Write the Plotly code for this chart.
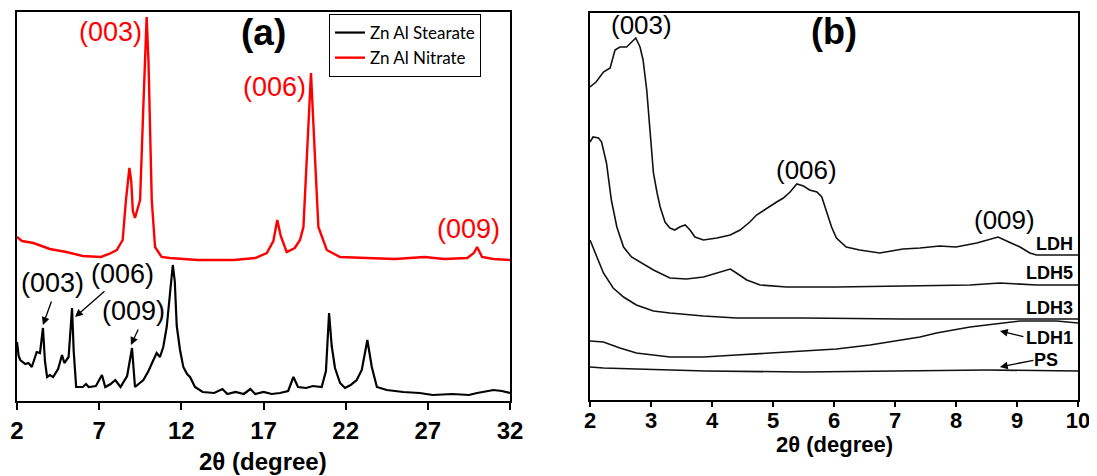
import plotly.graph_objects as go

# ---------------- Panel (a) data ----------------
a_stearate_x = [2.0, 2.1, 2.2, 2.5, 2.7, 2.9, 3.2, 3.4, 3.58, 3.7, 3.83, 4.0, 4.2, 4.5, 4.74, 4.88, 5.14, 5.35,
                5.45, 5.6, 6.0, 6.2, 6.36, 6.8, 7.17, 7.37, 7.7, 7.98, 8.3, 8.7, 9.0, 9.18, 9.69, 10.0, 10.3,
                10.5, 10.7, 10.9, 11.11, 11.3, 11.48, 11.6, 11.72, 11.92, 12.12, 12.35, 12.53, 12.83, 13.3,
                14.0, 14.5, 14.8, 15.3, 15.8, 16.2, 16.5, 17.0, 17.5, 18.0, 18.5, 18.82, 19.1, 19.6, 20.0,
                20.54, 20.8, 20.99, 21.15, 21.35, 21.66, 21.96, 22.3, 22.67, 22.98, 23.15, 23.32, 23.59, 23.9,
                24.5, 25.5, 26.5, 27.3, 28.5, 29.5, 30.0, 31.0, 31.5, 32.0]
a_stearate_y = [59, 45, 41, 37, 38, 34, 49, 48, 73, 40, 24, 26, 24, 32, 46, 38, 44, 93,
                50, 14, 14, 17, 14, 15, 26, 14, 17, 21, 14, 25, 53, 14, 21, 30, 41,
                48, 44, 54, 74, 110, 136, 120, 75, 51, 34, 27, 24, 14, 9,
                8, 12, 7, 9, 7, 12, 7, 9, 7, 8, 10, 24, 14, 13, 15,
                14, 30, 88, 55, 33, 18, 13, 16, 21, 31, 45, 61, 34, 14,
                11, 9, 8, 6, 7, 6, 8, 11, 10, 8]

a_nitrate_x = [2.0, 2.3, 3.0, 4.0, 5.0, 6.0, 7.1, 7.6, 8.07, 8.43, 8.63, 8.84, 8.95, 9.05, 9.18, 9.3, 9.49,
               9.7, 9.89, 10.0, 10.2, 10.4, 10.8, 11.3, 12.1, 13.0, 15.2, 16.5, 17.2, 17.6, 17.84, 18.05,
               18.41, 18.9, 19.22, 19.43, 19.63, 19.89, 20.14, 20.34, 20.85, 21.66, 23.3, 25.0, 26.8, 28.0,
               29.4, 29.8, 30.0, 30.3, 31.0, 32.0]
a_nitrate_y = [164, 160, 158, 152, 149, 145, 144, 147, 151, 161, 201, 233, 220, 190, 183, 190, 201,
               300, 384, 340, 201, 154, 144, 143, 142, 141, 141, 143, 148, 160, 181, 165,
               149, 153, 161, 174, 241, 328, 241, 174, 151, 144, 143, 142, 144, 142,
               143, 148, 154, 144, 142, 141]

a_ticks = [2, 7, 12, 17, 22, 27, 32]

# ---------------- Panel (b) data ----------------
b_ldh_x = [2.0, 2.1, 2.22, 2.33, 2.41, 2.49, 2.6, 2.68, 2.75, 2.82, 2.87, 2.93, 2.98, 3.04, 3.1, 3.15, 3.23,
           3.31, 3.39, 3.47, 3.56, 3.64, 3.72, 3.86, 4.08, 4.3, 4.46, 4.62, 4.73, 4.9, 5.06, 5.17, 5.28,
           5.39, 5.5, 5.6, 5.72, 5.8, 5.88, 5.96, 6.04, 6.2, 6.42, 6.75, 7.13, 7.41, 7.73, 8.0, 8.34,
           8.55, 8.69, 8.83, 9.05, 9.21, 9.32, 10.0]
b_ldh_y = [313, 318, 328, 332, 350, 353, 353, 358, 362, 353, 340, 310, 270, 227, 207, 193, 178,
           172, 170, 173, 175, 170, 163, 160, 162, 165, 170, 178, 185, 192, 198, 202, 208,
           216, 214, 210, 208, 203, 187, 173, 162, 153, 150, 147, 151, 152, 154, 153, 157,
           161, 163, 159, 153, 147, 145, 145]

b_ldh5_x = [2.0, 2.05, 2.14, 2.19, 2.27, 2.35, 2.44, 2.55, 2.68, 2.85, 3.04, 3.31, 3.58, 3.86, 4.08, 4.3,
            4.4, 4.57, 4.79, 5.22, 6.04, 7.13, 8.23, 8.72, 9.32, 10.0]
b_ldh5_y = [258, 263, 262, 258, 237, 200, 173, 153, 143, 137, 130, 122, 121, 123, 127, 131,
            127, 120, 115, 113, 113, 114, 115, 117, 115, 115]

b_ldh3_x = [2.0, 2.11, 2.22, 2.38, 2.55, 2.76, 3.04, 3.31, 3.86, 4.4, 5.5, 7.13, 10.0]
b_ldh3_y = [160, 143, 127, 112, 103, 95, 89, 87, 84, 82, 82, 81, 81]

b_ldh1_x = [2.0, 2.22, 2.49, 2.76, 3.31, 3.86, 4.4, 4.95, 5.5, 6.04, 6.59, 7.13, 7.41, 7.68, 7.95, 8.23,
            8.5, 8.77, 9.05, 9.32, 9.65, 10.0]
b_ldh1_y = [59, 58, 52, 47, 43, 43, 45, 47, 49, 51, 55, 60, 63, 67, 70, 73,
            75, 77, 79, 79, 79, 77]

b_ps_x = [2.0, 2.22, 2.76, 3.9, 5.5, 7.13, 8.5, 10.0]
b_ps_y = [33, 32, 31, 29, 28, 29, 30, 29]

b_ticks = [2, 3, 4, 5, 6, 7, 8, 9, 10]

FONT = "Liberation Sans, Arial, sans-serif"

# The page body has an 8px margin; the figure is sized to fit the 1097x476 window.
W, H, OFF = 1089, 468, 8
def fx(px):  # window x pixel -> paper fraction
    return (px - OFF) / W
def fy(py):  # window y pixel -> paper fraction (from bottom)
    return (H - (py - OFF)) / H

fig = go.Figure()
fig.add_trace(go.Scatter(x=a_stearate_x, y=a_stearate_y, mode="lines", name="Zn Al Stearate",
                         line=dict(color="black", width=2.2), xaxis="x", yaxis="y"))
fig.add_trace(go.Scatter(x=a_nitrate_x, y=a_nitrate_y, mode="lines", name="Zn Al Nitrate",
                         line=dict(color="#ff0000", width=2.4), xaxis="x", yaxis="y"))

for xs, ys, nm in [(b_ldh_x, b_ldh_y, "LDH"), (b_ldh5_x, b_ldh5_y, "LDH5"), (b_ldh3_x, b_ldh3_y, "LDH3"),
                   (b_ldh1_x, b_ldh1_y, "LDH1"), (b_ps_x, b_ps_y, "PS")]:
    fig.add_trace(go.Scatter(x=xs, y=ys, mode="lines", name=nm, showlegend=False,
                             line=dict(color="#111111", width=1.6), xaxis="x2", yaxis="y2"))

axis_common = dict(showline=True, mirror=True, linecolor="black", linewidth=1.5, showgrid=False,
                   zeroline=False, ticks="outside", tickcolor="black", tickwidth=1.5, automargin=False)

fig.update_layout(
    template="none",
    width=W, height=H,
    margin=dict(l=0, r=0, t=0, b=0, autoexpand=False),
    paper_bgcolor="white", plot_bgcolor="white",
    font=dict(family=FONT, color="black"),
    xaxis=dict(domain=[fx(17), fx(510)], range=[2, 32], tickvals=a_ticks, ticklen=7,
               tickfont=dict(size=24, weight="bold"), anchor="y", **axis_common),
    yaxis=dict(domain=[fy(401), fy(12)], range=[0, 389], showticklabels=False, anchor="x",
               **{**axis_common, "ticks": ""}),
    xaxis2=dict(domain=[fx(590), fx(1078)], range=[2, 10], tickvals=b_ticks, ticklen=5,
                ticklabelstandoff=-5,
                tickfont=dict(size=22, weight="bold"), anchor="y2", **axis_common),
    yaxis2=dict(domain=[fy(400), fy(13)], range=[0, 387], showticklabels=False, anchor="x2",
                **{**axis_common, "ticks": ""}),
    legend=dict(x=fx(329), y=fy(14), xanchor="left", yanchor="top",
                bordercolor="black", borderwidth=1, bgcolor="white",
                font=dict(family="Lato, Open Sans, sans-serif", size=17),
                tracegroupgap=0, itemwidth=30, entrywidth=132),
    showlegend=True,
)

ann = []
def txt(x, y, t, size, color="black", bold=False, xref="x", yref="y", xanchor="center"):
    ann.append(dict(x=x, y=y, xref=xref, yref=yref, text=t, showarrow=False, xanchor=xanchor,
                    yanchor="middle", font=dict(family=FONT, size=size, color=color,
                                                weight="bold" if bold else "normal")))

def arrow(x, y, ax, ay, xref, yref):
    ann.append(dict(x=x, y=y, xref=xref, yref=yref, ax=ax, ay=ay, text="", showarrow=True,
                    arrowhead=2, arrowsize=1.2, arrowwidth=1.3, arrowcolor="black"))

# axis titles
txt(fx(263), fy(461), "2θ (degree)", 24, bold=True, xref="paper", yref="paper")
txt(fx(834), fy(444), "2θ (degree)", 22, bold=True, xref="paper", yref="paper")

# Panel (a)
txt(16.97, 368, "(a)", 37, bold=True)
txt(7.66, 369, "(003)", 27, color="#ff0000")
txt(17.64, 314, "(006)", 27, color="#ff0000")
txt(29.45, 172, "(009)", 27, color="#ff0000")
txt(4.19, 118, "(003)", 27)
txt(8.45, 127, "(006)", 27)
txt(9.06, 90, "(009)", 27)
arrow(3.58, 76, 9, -25, "x", "y")
arrow(5.53, 84, 31, -27, "x", "y")
arrow(8.93, 56, 8, -17, "x", "y")

# Panel (b)
txt(6.0, 368, "(b)", 36, bold=True, xref="x2", yref="y2")
txt(2.85, 375, "(003)", 26, xref="x2", yref="y2")
txt(5.55, 230, "(006)", 26, xref="x2", yref="y2")
txt(8.8, 180, "(009)", 26, xref="x2", yref="y2")
txt(9.95, 156, "LDH", 18, bold=True, xref="x2", yref="y2", xanchor="right")
txt(9.95, 127, "LDH5", 18, bold=True, xref="x2", yref="y2", xanchor="right")
txt(9.95, 92, "LDH3", 18, bold=True, xref="x2", yref="y2", xanchor="right")
txt(9.95, 62, "LDH1", 18, bold=True, xref="x2", yref="y2", xanchor="right")
txt(9.7, 40, "PS", 18, bold=True, xref="x2", yref="y2", xanchor="right")
arrow(8.72, 69, 25, 6, "x2", "y2")
arrow(8.72, 33, 35, -7, "x2", "y2")

fig.update_layout(annotations=ann)
fig.write_html("out.html")
